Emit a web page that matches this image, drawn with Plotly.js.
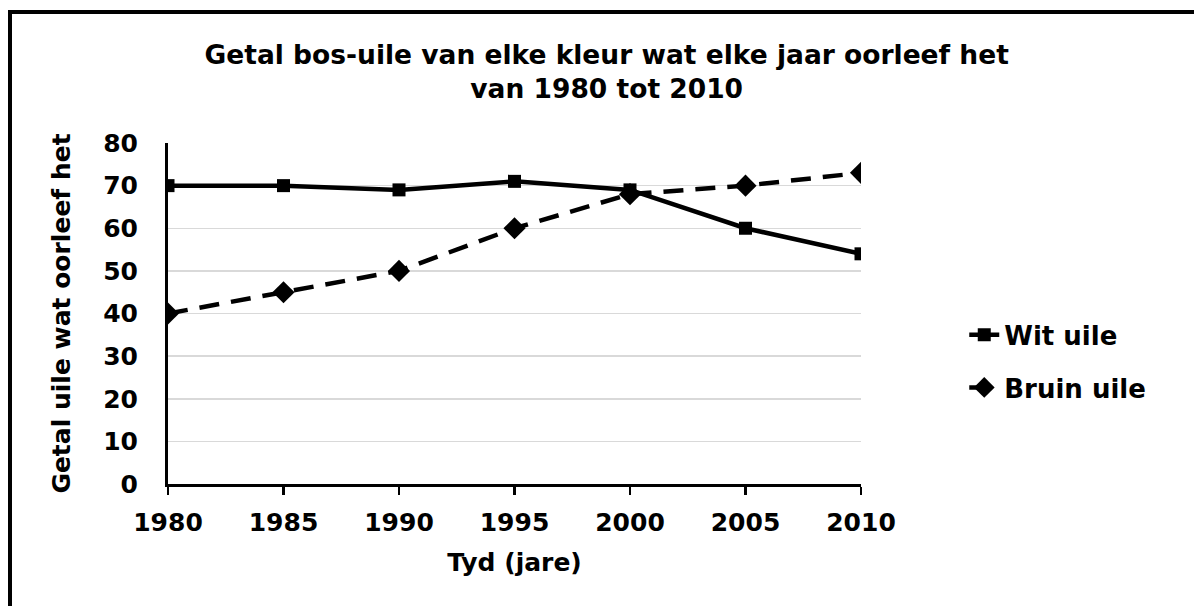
<!DOCTYPE html>
<html>
<head>
<meta charset="utf-8">
<script src="https://cdn.plot.ly/plotly-3.0.1.min.js"></script>
<style>
html,body{margin:0;padding:0;background:#fff;}
#chart{width:1194px;height:606px;}
</style>
</head>
<body>
<div id="chart"></div>
<script>
var years = [1980, 1985, 1990, 1995, 2000, 2005, 2010];
var witUile = [70, 70, 69, 71, 69, 60, 54];
var bruinUile = [40, 45, 50, 60, 68, 70, 73];
var yTicks = [0, 10, 20, 30, 40, 50, 60, 70, 80];

var F = "DejaVu Sans, Arial, sans-serif";
function bf(size) { return {family: F, size: size, color: "#000", weight: "bold"}; }

var traces = [
  {
    x: years, y: witUile, name: "Wit uile", type: "scatter", mode: "lines+markers",
    line: {color: "#000", width: 4.5},
    marker: {symbol: "square", size: 13, color: "#000"},
    legendgroup: "a"
  },
  {
    x: years, y: bruinUile, name: "Bruin uile", type: "scatter", mode: "lines+markers",
    line: {color: "#000", width: 4.5, dash: "20px,12px"},
    marker: {symbol: "diamond", size: 17, color: "#000"},
    legendgroup: "b"
  }
];

var layout = {
  width: 1194, height: 606,
  margin: {l: 168, r: 333, t: 143, b: 122},
  paper_bgcolor: "#fff", plot_bgcolor: "#fff",
  font: {family: F, color: "#000"},
  title: {
    text: "Getal bos-uile van elke kleur wat elke jaar oorleef het<br>van 1980 tot 2010",
    font: bf(26.5),
    xref: "paper", x: 0.633, xanchor: "center",
    yref: "container", y: 0.895, yanchor: "top"
  },
  xaxis: {
    range: [1980, 2010],
    tickvals: years,
    ticktext: years.map(String),
    showgrid: false, zeroline: false,
    showline: true, linecolor: "#000", linewidth: 3,
    ticks: "outside", ticklen: 8, tickwidth: 2.5, tickcolor: "#000",
    tickfont: bf(25),
    ticklabelstandoff: 6,
    title: {text: "Tyd (jare)", font: bf(25), standoff: 18},
    fixedrange: true
  },
  yaxis: {
    range: [0, 80],
    tickvals: yTicks,
    showgrid: true, gridcolor: "#d9d9d9", gridwidth: 1.5,
    zeroline: false,
    showline: true, linecolor: "#000", linewidth: 3,
    ticks: "",
    tickfont: bf(25),
    ticklabelstandoff: 22,
    title: {text: "Getal uile wat oorleef het", font: bf(25), standoff: 26},
    fixedrange: true
  },
  showlegend: true,
  legend: {
    x: 1.149, xanchor: "left", y: 0.36, yanchor: "middle",
    font: bf(26),
    tracegroupgap: 16,
    bgcolor: "rgba(0,0,0,0)"
  },
  shapes: [
    {type: "rect", xref: "paper", yref: "paper",
     x0: (10 - 168) / 693, x1: (1200 - 168) / 693,
     y0: (484 - 620) / 341, y1: (484 - 12) / 341,
     line: {color: "#000", width: 4}, fillcolor: "rgba(0,0,0,0)", layer: "below"}
  ]
};

Plotly.newPlot("chart", traces, layout, {displayModeBar: false, staticPlot: true});
</script>
</body>
</html>
